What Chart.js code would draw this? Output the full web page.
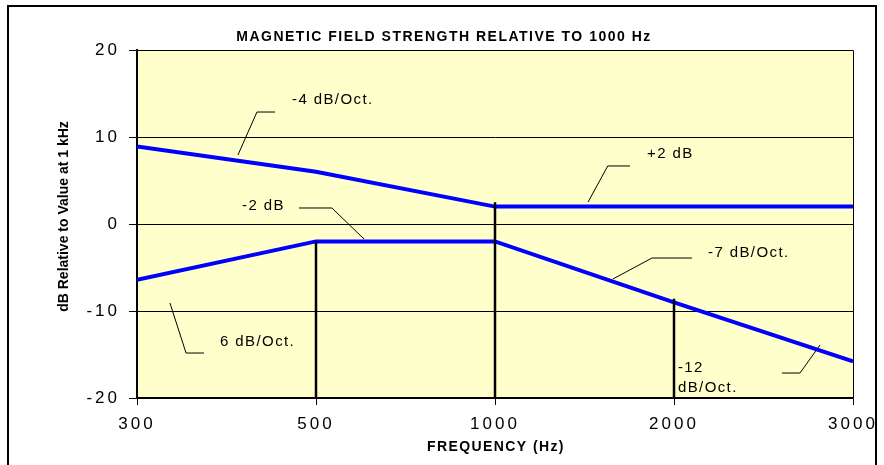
<!DOCTYPE html>
<html><head><meta charset="utf-8">
<script src="https://cdn.jsdelivr.net/npm/chart.js@4"></script>
<style>html,body{margin:0;padding:0;background:#fff}#wrap{width:884px;height:465px;position:relative}</style>
</head><body><div id="wrap"><canvas id="c" width="884" height="465"></canvas></div>
<script>
// ---- data ----
const categories = ['300', '500', '1000', '2000', '3000'];
const upperCurve = [8.9, 6, 2, 2, 2];
const lowerCurve = [-6.4, -2, -2, -9, -15.8];
const yTicks = [-20, -10, 0, 10, 20];
const dropCategory = [1, 2, 3];
const dropTop = [-2, 2.5, -8.6];
const dropBottom = -20;
const titleText = 'MAGNETIC FIELD STRENGTH RELATIVE TO 1000 Hz';
const xTitle = 'FREQUENCY (Hz)';
const yTitle = 'dB Relative to Value at 1 kHz';
const noteTexts = [['-4 dB/Oct.'], ['-2 dB'], ['+2 dB'], ['-7 dB/Oct.'], ['6 dB/Oct.'], ['-12', 'dB/Oct.']];

// annotation placement (data units: x = category index, y = dB)
const notes = [
  {text: noteTexts[0], at: [0.866, 14.25], leader: [[0.564, 7.93], [0.670, 12.87], [0.771, 12.87]]},
  {text: noteTexts[1], at: [0.587, 2.07], leader: [[0.905, 1.84], [1.089, 1.84], [1.268, -1.72]]},
  {text: noteTexts[2], at: [2.849, 8.05], leader: [[2.52, 2.53], [2.63, 6.67], [2.754, 6.67]]},
  {text: noteTexts[3], at: [3.19, -3.33], leader: [[2.659, -6.32], [2.877, -3.91], [3.101, -3.91]]},
  {text: noteTexts[4], at: [0.464, -13.56], leader: [[0.184, -9.08], [0.274, -14.83], [0.374, -14.83]]},
  {text: noteTexts[5], at: [3.022, -16.55], leader: [[3.603, -17.13], [3.704, -17.13], [3.816, -13.9]]}
];

const FONT = "Arial, 'Liberation Sans', sans-serif";
const BLUE = '#0000FF';

const datasets = [];
dropCategory.forEach((c, i) => {
  datasets.push({data: [{x: c, y: dropTop[i]}, {x: c, y: dropBottom}], borderColor: '#000', borderWidth: 2.5, pointRadius: 0, order: 0});
});
datasets.push({data: categories.map((_, i) => ({x: i, y: upperCurve[i]})), borderColor: BLUE, borderWidth: 4, pointRadius: 0, order: 1});
datasets.push({data: categories.map((_, i) => ({x: i, y: lowerCurve[i]})), borderColor: BLUE, borderWidth: 4, pointRadius: 0, order: 1});
notes.forEach(n => {
  datasets.push({data: n.leader.map(p => ({x: p[0], y: p[1]})), borderColor: '#000', borderWidth: 1, pointRadius: 0, order: 2});
});

const decor = {
  id: 'decor',
  beforeDraw(chart) {
    const {ctx, chartArea: a} = chart;
    ctx.save();
    ctx.fillStyle = '#fff';
    ctx.fillRect(0, 0, chart.width, chart.height);
    ctx.fillStyle = '#FFFFCC';
    ctx.fillRect(a.left, a.top, a.right - a.left, a.bottom - a.top);
    ctx.restore();
    ctx.letterSpacing = '3px';
  },
  afterDraw(chart) {
    const {ctx, chartArea: a, scales: {x, y}} = chart;
    ctx.save();
    // plot frame
    ctx.strokeStyle = '#000';
    ctx.lineWidth = 1;
    ctx.beginPath();
    ctx.moveTo(a.left, a.top + 0.5);
    ctx.lineTo(Math.round(a.right) + 0.5, a.top + 0.5);
    ctx.lineTo(Math.round(a.right) + 0.5, a.bottom);
    ctx.stroke();
    // outer border
    ctx.lineWidth = 2;
    ctx.strokeRect(8, 6, 868, 466);
    // annotation texts
    ctx.fillStyle = '#000';
    ctx.font = '15px ' + FONT;
    ctx.letterSpacing = '1.4px';
    ctx.textAlign = 'left';
    ctx.textBaseline = 'middle';
    notes.forEach(n => {
      const px = x.getPixelForValue(n.at[0]);
      const py = y.getPixelForValue(n.at[1]);
      n.text.forEach((t, k) => ctx.fillText(t, px, py + k * 20));
    });
    // main title
    ctx.font = 'bold 14px ' + FONT;
    ctx.textAlign = 'center';
    ctx.letterSpacing = '1.5px';
    ctx.fillText(titleText, 444, 37);
    // x title
    ctx.letterSpacing = '1.4px';
    ctx.fillText(xTitle, (a.left + a.right) / 2 + 1, 447);
    // y title
    ctx.letterSpacing = '0px';
    ctx.font = 'bold 14px ' + FONT;
    ctx.translate(64, 216.5);
    ctx.rotate(-Math.PI / 2);
    ctx.fillText(yTitle, 0, 0);
    ctx.restore();
  }
};

new Chart(document.getElementById('c'), {
  type: 'line',
  data: {datasets},
  plugins: [decor],
  options: {
    responsive: false,
    animation: false,
    events: [],
    devicePixelRatio: 1,
    layout: {padding: {top: 50, right: 31, left: 0, bottom: 0}},
    plugins: {legend: {display: false}, tooltip: {enabled: false}, title: {display: false}},
    elements: {line: {tension: 0, fill: false}},
    scales: {
      x: {
        type: 'linear', min: 0, max: 4,
        afterBuildTicks: s => { s.ticks = categories.map((_, i) => ({value: i})); },
        afterFit: s => { s.height = 67; },
        ticks: {callback: v => categories[v], font: {family: FONT, size: 17}, color: '#000', padding: 9, maxRotation: 0, autoSkip: false},
        grid: {drawOnChartArea: false, drawTicks: true, tickLength: 7, color: '#000', lineWidth: 1},
        border: {color: '#000', width: 1.5}
      },
      y: {
        min: -20, max: 20,
        afterBuildTicks: s => { s.ticks = yTicks.map(v => ({value: v})); },
        afterFit: s => { s.width = 137; },
        ticks: {font: {family: FONT, size: 17}, color: '#000', padding: 9},
        grid: {color: '#000', lineWidth: 1, tickLength: 8},
        border: {color: '#000', width: 2}
      }
    }
  }
});
</script>
</body></html>
